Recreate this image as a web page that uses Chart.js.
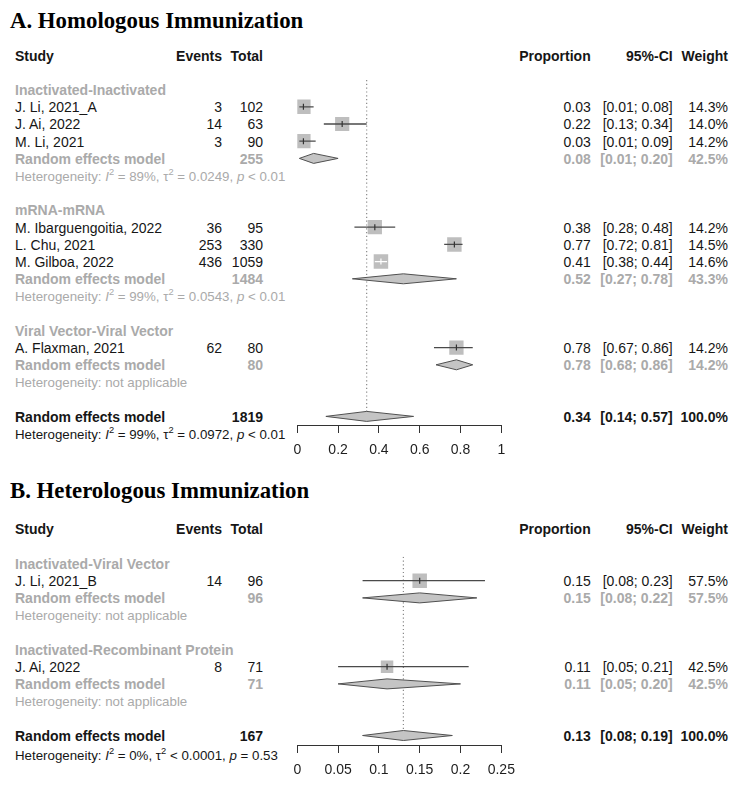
<!DOCTYPE html>
<html><head><meta charset="utf-8">
<script src="https://cdn.jsdelivr.net/npm/chart.js@4.4.0/dist/chart.umd.min.js"></script>
<style>
html,body{margin:0;padding:0;background:#fff;}
#page{position:relative;width:740px;height:787px;overflow:hidden;font-family:"Liberation Sans",Arial,sans-serif;font-size:14px;color:#161616;}
.t{position:absolute;white-space:nowrap;line-height:17px;height:17px;}
.g{color:#aaaaaa;}
.b{font-weight:bold;}
.h{font-size:13.3px;}
.title{position:absolute;left:10px;font-family:"Liberation Serif","Times New Roman",serif;font-weight:bold;font-size:22.8px;line-height:26px;height:26px;white-space:nowrap;color:#000;}
canvas{position:absolute;left:0;}
sup{font-size:70%;line-height:0;position:relative;top:-0.1em;vertical-align:super;}
</style>
</head><body>
<div id="page"></div>
<script>
// ---------- Panel A: Homologous Immunization ----------
const titleA = "A. Homologous Immunization";
const ticksA = [0, 0.2, 0.4, 0.6, 0.8, 1];
const groupsA = ["Inactivated-Inactivated", "mRNA-mRNA", "Viral Vector-Viral Vector"];
const studiesA = ["J. Li, 2021_A", "J. Ai, 2022", "M. Li, 2021", "M. Ibarguengoitia, 2022", "L. Chu, 2021", "M. Gilboa, 2022", "A. Flaxman, 2021"];
const studyGroupA = [0, 0, 0, 1, 1, 1, 2];
const eventsA = [3, 14, 3, 36, 253, 436, 62];
const totalsA = [102, 63, 90, 95, 330, 1059, 80];
const propA = [0.03, 0.22, 0.03, 0.38, 0.77, 0.41, 0.78];
const lowerA = [0.01, 0.13, 0.01, 0.28, 0.72, 0.38, 0.67];
const upperA = [0.08, 0.34, 0.09, 0.48, 0.81, 0.44, 0.86];
const weightA = [14.3, 14.0, 14.2, 14.2, 14.5, 14.6, 14.2];
const subTotalA = [255, 1484, 80];
const subPropA = [0.08, 0.52, 0.78];
const subLowerA = [0.01, 0.27, 0.68];
const subUpperA = [0.20, 0.78, 0.86];
const subWeightA = [42.5, 43.3, 14.2];
const subI2A = ["= 89%", "= 99%", null];
const subTau2A = ["= 0.0249", "= 0.0543", null];
const subPA = ["< 0.01", "< 0.01", null];
const overallA = [1819, 0.34, 0.14, 0.57, 100.0];      // total, proportion, lower, upper, weight
const overallHetA = ["= 99%", "= 0.0972", "< 0.01"];   // I2, tau2, p

// ---------- Panel B: Heterologous Immunization ----------
const titleB = "B. Heterologous Immunization";
const ticksB = [0, 0.05, 0.1, 0.15, 0.2, 0.25];
const groupsB = ["Inactivated-Viral Vector", "Inactivated-Recombinant Protein"];
const studiesB = ["J. Li, 2021_B", "J. Ai, 2022"];
const studyGroupB = [0, 1];
const eventsB = [14, 8];
const totalsB = [96, 71];
const propB = [0.15, 0.11];
const lowerB = [0.08, 0.05];
const upperB = [0.23, 0.21];
const weightB = [57.5, 42.5];
const subTotalB = [96, 71];
const subPropB = [0.15, 0.11];
const subLowerB = [0.08, 0.05];
const subUpperB = [0.22, 0.20];
const subWeightB = [57.5, 42.5];
const subI2B = [null, null];
const subTau2B = [null, null];
const subPB = [null, null];
const overallB = [167, 0.13, 0.08, 0.19, 100.0];
const overallHetB = ["= 0%", "< 0.0001", "= 0.53"];

const headers = ["Study", "Events", "Total", "Proportion", "95%-CI", "Weight"];

// ---------- layout ----------
const PITCH = 17.2;
const COL = {name: 15, events: 222, total: 263, prop: 590.7, ci: 672.7, weight: 728};
const page = document.getElementById('page');

function esc(s){return s.replace(/&/g,'&amp;').replace(/</g,'&lt;').replace(/>/g,'&gt;');}
function addText(html, x, yc, right, cls){
  const d = document.createElement('div');
  d.className = 't ' + (cls || '');
  d.innerHTML = html;
  d.style.top = (yc - 8.5) + 'px';
  if (right) d.style.right = (740 - x) + 'px'; else d.style.left = x + 'px';
  page.appendChild(d);
}
function hetHtml(i2, tau2, p){
  if (i2 === null) return 'Heterogeneity: not applicable';
  return 'Heterogeneity: <i>I</i><sup>2</sup> ' + esc(i2) + ', &tau;<sup>2</sup> ' + esc(tau2) + ', <i>p</i> ' + esc(p);
}
function fmtCI(lo, hi){ return '[' + lo.toFixed(2) + '; ' + hi.toFixed(2) + ']'; }

function buildPanel(P){
  const yOf = r => P.row0Y + r * PITCH;
  const ty = r => yOf(r) + 0.8;
  // title
  const t = document.createElement('div');
  t.className = 'title'; t.textContent = P.title; t.style.top = (P.titleY - 13) + 'px';
  page.appendChild(t);
  // headers
  addText(headers[0], COL.name, ty(-2), false, 'b');
  addText(headers[1], COL.events, ty(-2), true, 'b');
  addText(headers[2], COL.total, ty(-2), true, 'b');
  addText(headers[3], COL.prop, ty(-2), true, 'b');
  addText(headers[4], COL.ci, ty(-2), true, 'b');
  addText(headers[5], COL.weight, ty(-2), true, 'b');

  let r = 0;
  const studyRow = [], subRow = [];
  P.groups.forEach((g, gi) => {
    addText(esc(g), COL.name, ty(r), false, 'g b'); r++;
    P.studyGroup.forEach((sg, si) => {
      if (sg !== gi) return;
      studyRow[si] = r;
      addText(esc(P.studies[si]), COL.name, ty(r), false, '');
      addText(String(P.events[si]), COL.events, ty(r), true, '');
      addText(String(P.totals[si]), COL.total, ty(r), true, '');
      addText(P.prop[si].toFixed(2), COL.prop, ty(r), true, '');
      addText(fmtCI(P.lower[si], P.upper[si]), COL.ci, ty(r), true, '');
      addText(P.weight[si].toFixed(1) + '%', COL.weight, ty(r), true, '');
      r++;
    });
    subRow[gi] = r;
    addText('Random effects model', COL.name, ty(r), false, 'g b');
    addText(String(P.subTotal[gi]), COL.total, ty(r), true, 'g b');
    addText(P.subProp[gi].toFixed(2), COL.prop, ty(r), true, 'g b');
    addText(fmtCI(P.subLower[gi], P.subUpper[gi]), COL.ci, ty(r), true, 'g b');
    addText(P.subWeight[gi].toFixed(1) + '%', COL.weight, ty(r), true, 'g b');
    r++;
    addText(hetHtml(P.subI2[gi], P.subTau2[gi], P.subP[gi]), COL.name, ty(r), false, 'g h');
    r += 2;
  });
  const oRow = r;
  const ov = P.overall;
  addText('Random effects model', COL.name, ty(oRow), false, 'b');
  addText(String(ov[0]), COL.total, ty(oRow), true, 'b');
  addText(ov[1].toFixed(2), COL.prop, ty(oRow), true, 'b');
  addText(fmtCI(ov[2], ov[3]), COL.ci, ty(oRow), true, 'b');
  addText(ov[4].toFixed(1) + '%', COL.weight, ty(oRow), true, 'b');
  addText(hetHtml(P.overallHet[0], P.overallHet[1], P.overallHet[2]), COL.name, ty(oRow + 1) + P.hetShift, false, 'h');

  // ---------- chart ----------
  const cv = document.createElement('canvas');
  cv.width = 740; cv.height = P.canvasH;
  cv.style.top = P.canvasTop + 'px';
  cv.style.width = '740px'; cv.style.height = P.canvasH + 'px';
  page.appendChild(cv);

  const yMin = (P.plotTop - P.row0Y) / PITCH;
  const yMax = (P.axisY - P.row0Y) / PITCH;
  const AXIS_H = 35;
  const SQ = 14.5;           // side of the largest square, px
  const DH = 5 / PITCH;      // half height of diamonds, in rows
  const maxW = Math.max(...P.weight);
  const sides = P.weight.map(w => SQ * Math.sqrt(w / maxW));
  // CI entirely hidden inside its square -> drawn in white
  const inside = (c, i) => {
    const xs = c.chart.scales.x;
    const e = xs.getPixelForValue(P.prop[i]);
    return (e - xs.getPixelForValue(P.lower[i])) < sides[i] / 2 && (xs.getPixelForValue(P.upper[i]) - e) < sides[i] / 2;
  };

  const datasets = [];
  // dotted reference line at the overall estimate
  datasets.push({data: [{x: ov[1], y: yMin}, {x: ov[1], y: oRow}], showLine: true, borderColor: '#8a8a8a',
    borderWidth: 1.2, borderDash: [1.2, 2.6], pointRadius: 0, order: 6});
  // squares
  datasets.push({data: P.prop.map((v, i) => ({x: v, y: studyRow[i]})), pointStyle: 'rect',
    pointRadius: sides.map(s => s / Math.SQRT2), backgroundColor: '#bebebe', borderWidth: 0, order: 5});
  // confidence intervals
  P.prop.forEach((v, i) => {
    datasets.push({data: [{x: P.lower[i], y: studyRow[i]}, {x: P.upper[i], y: studyRow[i]}], showLine: true,
      borderWidth: 1.3, pointRadius: 0, order: 3,
      borderColor: (c) => inside(c, i) ? '#ffffff' : '#4a4a4a'});
  });
  // estimate ticks
  datasets.push({data: P.prop.map((v, i) => ({x: v, y: studyRow[i]})), pointStyle: 'line', rotation: 90,
    pointRadius: 3, pointBorderWidth: 1.2, order: 2,
    pointBorderColor: (c) => (c.dataIndex !== undefined && inside(c, c.dataIndex)) ? '#ffffff' : '#333333'});
  // diamonds
  const diamond = (est, lo, hi, row) => ({
    data: [{x: lo, y: row}, {x: est, y: row - DH}, {x: hi, y: row}, {x: est, y: row + DH}, {x: lo, y: row}],
    showLine: true, fill: 'shape', backgroundColor: '#c4c4c4', borderColor: '#505050', borderWidth: 1,
    pointRadius: 0, order: 4});
  P.groups.forEach((g, gi) => datasets.push(diamond(P.subProp[gi], P.subLower[gi], P.subUpper[gi], subRow[gi])));
  datasets.push(diamond(ov[1], ov[2], ov[3], oRow));

  new Chart(cv, {
    type: 'scatter',
    data: {datasets},
    options: {
      responsive: false, animation: false, events: [],
      layout: {padding: {left: 297.3, right: 740 - 501.3, top: P.plotTop - P.canvasTop,
        bottom: P.canvasTop + P.canvasH - P.axisY - AXIS_H}},
      plugins: {legend: {display: false}, tooltip: {enabled: false}},
      elements: {line: {tension: 0}},
      scales: {
        x: {type: 'linear', min: P.ticks[0], max: P.ticks[P.ticks.length - 1], offset: false,
          afterFit: (s) => { s.height = AXIS_H; },
          afterBuildTicks: (s) => { s.ticks = P.ticks.map(v => ({value: v})); },
          grid: {drawOnChartArea: false, drawTicks: true, tickLength: 8, color: '#333', lineWidth: 1},
          border: {display: true, color: '#333', width: 1},
          ticks: {autoSkip: false, maxRotation: 0, padding: 9, color: '#1e1e1e',
            font: {family: '"Liberation Sans", Arial, sans-serif', size: 14},
            callback: (v) => String(v)}},
        y: {type: 'linear', display: false, reverse: true, min: yMin, max: yMax}
      }
    }
  });
}

buildPanel({title: titleA, ticks: ticksA, groups: groupsA, studies: studiesA, studyGroup: studyGroupA,
  events: eventsA, totals: totalsA, prop: propA, lower: lowerA, upper: upperA, weight: weightA,
  subTotal: subTotalA, subProp: subPropA, subLower: subLowerA, subUpper: subUpperA, subWeight: subWeightA,
  subI2: subI2A, subTau2: subTau2A, subP: subPA, overall: overallA, overallHet: overallHetA,
  row0Y: 89.6, titleY: 20.7, plotTop: 80, axisY: 425, canvasTop: 0, canvasH: 470, hetShift: 0});

buildPanel({title: titleB, ticks: ticksB, groups: groupsB, studies: studiesB, studyGroup: studyGroupB,
  events: eventsB, totals: totalsB, prop: propB, lower: lowerB, upper: upperB, weight: weightB,
  subTotal: subTotalB, subProp: subPropB, subLower: subLowerB, subUpper: subUpperB, subWeight: subWeightB,
  subI2: subI2B, subTau2: subTau2B, subP: subPB, overall: overallB, overallHet: overallHetB,
  row0Y: 563.5, titleY: 490.7, plotTop: 556.7, axisY: 745, canvasTop: 470, canvasH: 317, hetShift: 2});
</script>
</body></html>
